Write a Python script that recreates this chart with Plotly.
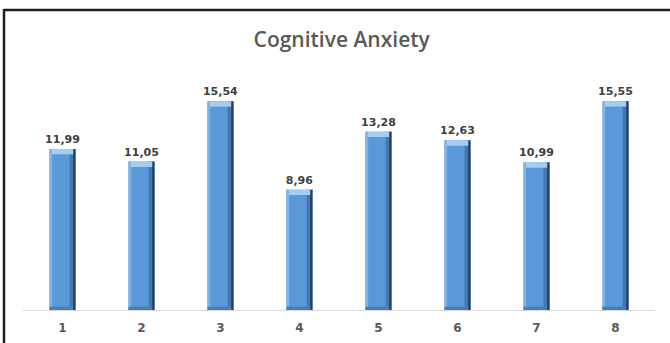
import plotly.graph_objects as go

categories = ["1", "2", "3", "4", "5", "6", "7", "8"]
scores = [11.99, 11.05, 15.54, 8.96, 13.28, 12.63, 10.99, 15.55]
title_text = "Cognitive Anxiety"

labels = [f"{v:.2f}".replace(".", ",") for v in scores]

BAR_W = 0.33
L, R, T, B = 23, 15, 75, 33
W, H = 670, 343
plot_w = W - L - R
plot_h = H - T - B

fig = go.Figure()

# main bar face
fig.add_trace(go.Bar(
    x=categories, y=scores, width=BAR_W, offset=-BAR_W / 2,
    marker=dict(color="#5a98d8", line=dict(width=0)),
    text=labels, textposition="outside", cliponaxis=False, constraintext="none",
    textfont=dict(family="DejaVu Sans", size=11, color="#404040", weight="bold"),
    hoverinfo="skip", showlegend=False,
))
# lighter left bevel
fig.add_trace(go.Bar(
    x=categories, y=scores, width=0.035, offset=-BAR_W / 2,
    marker=dict(color="#7db3e8", line=dict(width=0)),
    hoverinfo="skip", showlegend=False,
))
# shaded right bevel
fig.add_trace(go.Bar(
    x=categories, y=scores, width=0.05, offset=BAR_W / 2 - 0.075,
    marker=dict(color="#4677ad", line=dict(width=0)),
    hoverinfo="skip", showlegend=False,
))
fig.add_trace(go.Bar(
    x=categories, y=scores, width=0.03, offset=BAR_W / 2 - 0.03,
    marker=dict(color="#243f60", line=dict(width=0)),
    hoverinfo="skip", showlegend=False,
))
# highlighted top cap
cap = 0.4
fig.add_trace(go.Bar(
    x=categories, y=[cap] * len(scores), base=[v - cap for v in scores],
    width=BAR_W - 0.06, offset=-BAR_W / 2 + 0.03,
    marker=dict(color="#a3cdf3", line=dict(width=0)),
    hoverinfo="skip", showlegend=False,
))
# shaded bottom rim
fig.add_trace(go.Bar(
    x=categories, y=[0.25] * len(scores), width=BAR_W - 0.03, offset=-BAR_W / 2,
    marker=dict(color="#4a7db3", line=dict(width=0)),
    hoverinfo="skip", showlegend=False,
))

# frame lines along top and left edges
px = lambda x: (x - L) / plot_w
py = lambda y: (H - B - y) / plot_h
fig.add_shape(type="line", xref="paper", yref="paper",
              x0=px(4), x1=px(W), y0=py(10), y1=py(10),
              line=dict(color="#1e1e1e", width=2.5))
fig.add_shape(type="line", xref="paper", yref="paper",
              x0=px(4), x1=px(4), y0=py(9), y1=py(H),
              line=dict(color="#1e1e1e", width=2.5))

fig.update_layout(
    width=W, height=H,
    margin=dict(l=L, r=R, t=T, b=B, autoexpand=False),
    paper_bgcolor="white", plot_bgcolor="white",
    barmode="overlay",
    title=dict(text=title_text, x=0.51, xanchor="center",
               y=1 - 40 / H, yanchor="middle", yref="container",
               font=dict(family="Open Sans", size=21, color="#595959", weight=600)),
    xaxis=dict(showgrid=False, zeroline=False, showline=True, linecolor="#d9d9d9",
               linewidth=1, ticks="", ticklabelstandoff=7, automargin=False,
               tickfont=dict(family="DejaVu Sans", size=12, color="#595959", weight="bold")),
    yaxis=dict(range=[0, 17.5], visible=False, showgrid=False, zeroline=False),
)

fig.write_html("out.html")
